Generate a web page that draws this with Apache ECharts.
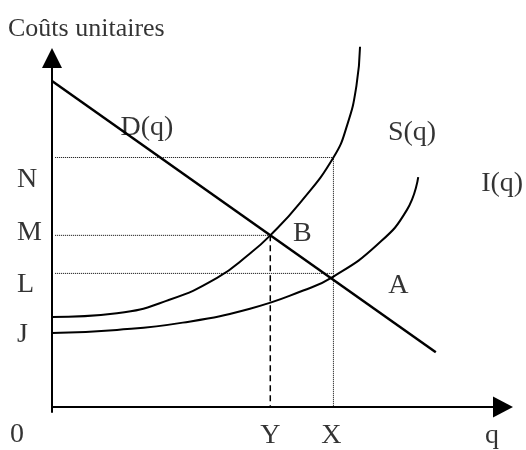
<!DOCTYPE html>
<html>
<head>
<meta charset="utf-8">
<script src="https://cdn.jsdelivr.net/npm/echarts@6/dist/echarts.min.js"></script>
<style>
  html, body { margin: 0; padding: 0; background: #fff; }
  #chart { width: 526px; height: 450px; }
</style>
</head>
<body>
<div id="chart"></div>
<script>
var qD = [0, 85.1];
var coutD = [93.4, 15.7];

var qS = [0, 14.4, 25.5, 36.6, 43.9, 48.4, 55, 62.4, 65.5, 67.5, 68.3];
var coutS = [25.8, 26.9, 30.5, 37.0, 44.0, 49.2, 58.5, 71.5, 81.0, 92.0, 103.2];

var qI = [0, 14.4, 29.0, 43.9, 55.7, 62.4, 72.1, 78.7, 81.2];
var coutI = [21.2, 22.1, 24.2, 28.2, 33.4, 37.4, 46.5, 56.5, 65.9];

// niveaux de prix et quantités repères
var niveauN = 71.5;
var niveauM = 49.2;
var niveauL = 38.3;
var qY = 48.4;
var qX = 62.4;

function pts(xs, ys) {
    return xs.map(function (x, i) { return [x, ys[i]]; });
}

function courbe(nom, data, largeur) {
    return {
        name: nom,
        type: 'line',
        data: data,
        smooth: 0.5,
        symbol: 'none',
        clip: false,
        lineStyle: { color: '#000', width: largeur },
        z: 3
    };
}

function repere(data, type, largeur) {
    return {
        type: 'line',
        data: data,
        symbol: 'none',
        clip: false,
        lineStyle: { color: '#000', width: largeur, type: type },
        z: 2
    };
}

// étiquettes accrochées à des points du schéma, décalées en pixels
function etiquette(texte, point, dx, dy, align, taille) {
    return {
        value: point,
        label: {
            show: true,
            formatter: texte,
            position: 'inside',
            offset: [dx, dy],
            align: align || 'center',
            verticalAlign: 'middle',
            fontFamily: 'Liberation Serif',
            fontSize: taille || 28,
            color: '#000',
            textBorderWidth: 0
        }
    };
}

var etiquettes = [
    etiquette('Coûts unitaires', [0, 100], -44, -29, 'left', 26),
    etiquette('D(q)', [qD[0], coutD[0]], 95, 47),
    etiquette('S(q)', [qS[qS.length - 1], coutS[coutS.length - 1]], 52, 86),
    etiquette('I(q)', [qI[qI.length - 1], coutI[coutI.length - 1]], 84, 7),
    etiquette('N', [0, niveauN], -35, 22, 'left'),
    etiquette('M', [0, niveauM], -35, -3, 'left'),
    etiquette('L', [0, niveauL], -35, 11, 'left'),
    etiquette('J', [0, coutI[0]], -35, 2, 'left'),
    etiquette('0', [0, 0], -42, 28, 'left'),
    etiquette('Y', [qY, 0], 0, 29),
    etiquette('X', [qX, 0], -2, 29),
    etiquette('q', [100, 0], -11, 29),
    etiquette('B', [qY, niveauM], 32, -2),
    etiquette('A', [qX, niveauL], 65, 12)
];

var myChart = echarts.init(document.getElementById('chart'));

var option = {
    backgroundColor: '#fff',
    animation: false,
    grid: { left: 52, right: 23, top: 58, bottom: 38 },
    xAxis: {
        type: 'value',
        min: 0,
        max: 100,
        axisLine: {
            onZero: true,
            symbol: ['none', 'triangle'],
            symbolSize: [21, 20],
            lineStyle: { color: '#000', width: 2 }
        },
        axisTick: { show: false },
        axisLabel: { show: false },
        splitLine: { show: false }
    },
    yAxis: {
        type: 'value',
        min: -1.4,
        max: 100,
        axisLine: {
            show: true,
            symbol: ['none', 'triangle'],
            symbolSize: [20, 20],
            lineStyle: { color: '#000', width: 2 }
        },
        axisTick: { show: false },
        axisLabel: { show: false },
        splitLine: { show: false }
    },
    series: [
        repere([[0.7, niveauN], [qX, niveauN], [qX, 0]], [1, 1], 1),
        repere([[0.7, niveauL], [qX, niveauL]], [1, 1], 1),
        repere([[0.7, niveauM], [qY, niveauM]], [1, 1], 1),
        repere([[qY, niveauM], [qY, 0]], [6, 4], 1.5),
        courbe('S(q)', pts(qS, coutS), 2),
        courbe('I(q)', pts(qI, coutI), 2),
        courbe('D(q)', pts(qD, coutD), 2.5),
        {
            type: 'scatter',
            symbolSize: 0,
            clip: false,
            silent: true,
            data: etiquettes,
            z: 5
        }
    ]
};

myChart.setOption(option);
</script>
</body>
</html>
